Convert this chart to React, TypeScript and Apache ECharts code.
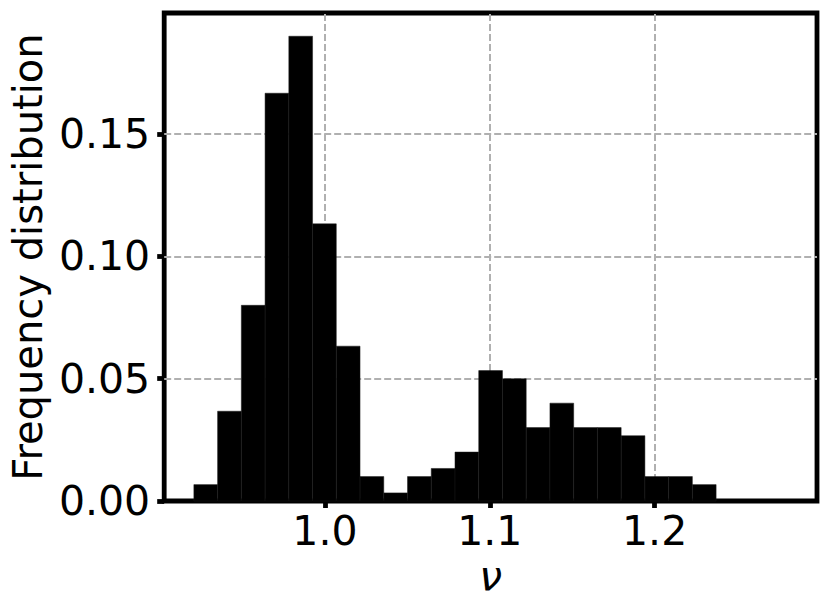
import React, { useEffect, useRef } from "react";
import * as echarts from "echarts";

// Histogram bin edges (left edges of the non-empty bins plus the final right edge)
const binEdges = [
  0.9205, 0.9349, 0.9493, 0.9637, 0.9781, 0.9925, 1.0069, 1.0213, 1.0357,
  1.0501, 1.0645, 1.0789, 1.0933, 1.1077, 1.1221, 1.1365, 1.1509, 1.1653,
  1.1797, 1.1941, 1.2085, 1.2229, 1.2373,
];
// Frequency of each bin
const frequencies = [
  0.0067, 0.0367, 0.08, 0.1667, 0.19, 0.1133, 0.0633, 0.01, 0.0033, 0.01,
  0.0133, 0.02, 0.0533, 0.05, 0.03, 0.04, 0.03, 0.03, 0.0267, 0.01, 0.01,
  0.0067,
];
const xTicks = [1.0, 1.1, 1.2];
const yTicks = [0, 0.05, 0.1, 0.15];
const xRange = [0.9025, 1.2985];
const yRange = [0, 0.1995];

const FONT = "DejaVu Sans";

export default function App() {
  const ref = useRef<HTMLDivElement>(null);
  useEffect(() => {
    if (!ref.current) return;
    const chart = echarts.init(ref.current, null, { renderer: "svg" });
    const barData = frequencies.map((f, i) => [binEdges[i], binEdges[i + 1], f]);
    const gridLineData = [
      ...xTicks.map((v) => ({ xAxis: v })),
      ...yTicks.filter((v) => v > 0).map((v) => ({ yAxis: v })),
    ];
    chart.setOption({
      animation: false,
      backgroundColor: "#fff",
      grid: {
        left: 163,
        right: 13,
        top: 13,
        bottom: 112,
        show: true,
        borderColor: "#000",
        borderWidth: 4.8,
        backgroundColor: "transparent",
      },
      xAxis: {
        type: "value",
        min: xRange[0],
        max: xRange[1],
        name: "ν",
        nameLocation: "middle",
        nameGap: 50,
        nameTextStyle: {
          fontSize: 41,
          fontFamily: FONT,
          fontStyle: "italic",
          color: "#000",
        },
        axisLine: { show: false },
        axisTick: {
          show: true,
          length: 7,
          customValues: xTicks,
          lineStyle: { color: "#000", width: 4.8 },
        },
        axisLabel: {
          customValues: xTicks,
          formatter: (v: number) => v.toFixed(1),
          fontSize: 41,
          fontFamily: FONT,
          color: "#000",
          margin: 9,
        },
        splitLine: { show: false },
      },
      yAxis: {
        type: "value",
        min: yRange[0],
        max: yRange[1],
        name: "Frequency distribution",
        nameLocation: "middle",
        nameGap: 108,
        nameTextStyle: {
          fontSize: 40,
          fontFamily: FONT,
          color: "#000",
        },
        axisLine: { show: false },
        axisTick: {
          show: true,
          length: 7,
          customValues: yTicks,
          lineStyle: { color: "#000", width: 4.8 },
        },
        axisLabel: {
          customValues: yTicks,
          formatter: (v: number) => v.toFixed(2),
          fontSize: 41,
          fontFamily: FONT,
          color: "#000",
          margin: 14,
        },
        splitLine: { show: false },
      },
      series: [
        {
          type: "line",
          data: [],
          z: 1,
          markLine: {
            silent: true,
            symbol: "none",
            label: { show: false },
            lineStyle: { color: "#b0b0b0", width: 2, type: [7, 3] },
            data: gridLineData,
          },
        },
        {
          type: "custom",
          z: 10,
          data: barData,
          encode: { x: [0, 1], y: 2 },
          renderItem: (params: any, api: any) => {
            const x0 = api.value(0);
            const x1 = api.value(1);
            const y = api.value(2);
            const p0 = api.coord([x0, y]);
            const p1 = api.coord([x1, 0]);
            return {
              type: "rect",
              shape: {
                x: p0[0],
                y: p0[1],
                width: p1[0] - p0[0],
                height: p1[1] - p0[1],
              },
              style: { fill: "#000", stroke: "#1a1a1a", lineWidth: 0.5 },
            };
          },
        },
      ],
    });
    return () => chart.dispose();
  }, []);
  return (
    <div
      ref={ref}
      style={{ position: "absolute", left: 0, top: 0, width: 830, height: 613 }}
    />
  );
}
